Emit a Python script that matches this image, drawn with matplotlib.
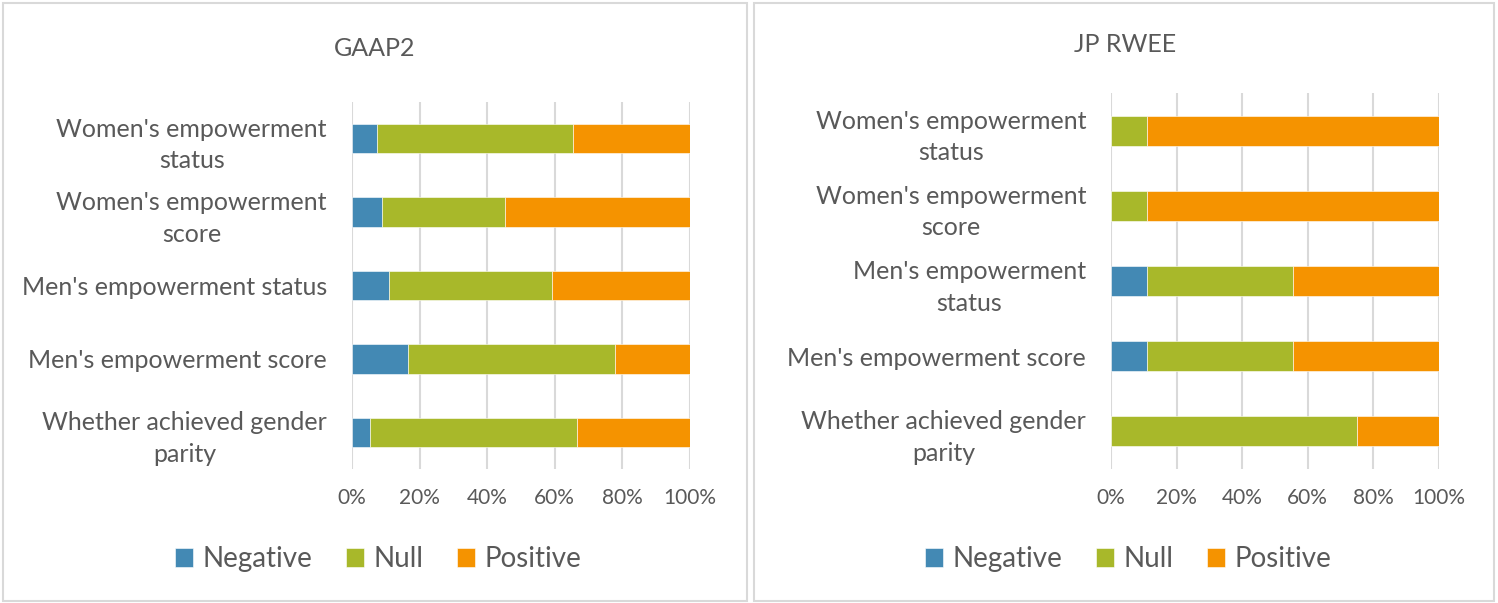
import matplotlib.pyplot as plt
from matplotlib.patches import Rectangle
import numpy as np

plt.rcParams['font.family'] = ['Lato', 'DejaVu Sans']

series = ['Negative', 'Null', 'Positive']
colors = ['#4389B4', '#A8B82A', '#F59300']

# GAAP2 panel
gaap_labels = ["Women's empowerment\nstatus", "Women's empowerment\nscore",
               "Men's empowerment status", "Men's empowerment score",
               "Whether achieved gender\nparity"]
gaap_neg = [7.5, 9.0, 11.0, 16.6, 5.4]
gaap_null = [58.0, 36.4, 48.3, 61.3, 61.3]
gaap_pos = [34.5, 54.6, 40.7, 22.1, 33.3]

# JP RWEE panel
rwee_labels = ["Women's empowerment\nstatus", "Women's empowerment\nscore",
               "Men's empowerment\nstatus", "Men's empowerment score",
               "Whether achieved gender\nparity"]
rwee_neg = [0.0, 0.0, 11.1, 11.1, 0.0]
rwee_null = [11.1, 11.1, 44.4, 44.4, 75.0]
rwee_pos = [88.9, 88.9, 44.5, 44.5, 25.0]

W, H = 1498, 603
fig = plt.figure(figsize=(W / 100, H / 100), dpi=100)
txt = '#595959'
grid = '#D9D9D9'

# panel frames
for x0, x1 in [(3, 747), (754, 1494)]:
    fig.patches.append(Rectangle((x0 / W, 2 / H), (x1 - x0) / W, (H - 5) / H,
                                 transform=fig.transFigure, fill=False,
                                 edgecolor=grid, linewidth=1.5))


def draw(rect, title, title_xy, labels, neg, null, pos, legend_xy):
    ax = fig.add_axes([rect[0] / W, (H - rect[3]) / H,
                       (rect[2] - rect[0]) / W, (rect[3] - rect[1]) / H])
    y = np.arange(len(labels))[::-1]
    left = np.zeros(len(labels))
    for vals, name, c in zip([neg, null, pos], series, colors):
        ax.barh(y, vals, left=left, height=0.4, color=c, label=name,
                edgecolor='white', linewidth=0.4, zorder=3)
        left = left + np.array(vals)
    ax.set_xlim(0, 100)
    ax.set_ylim(-0.5, len(labels) - 0.5)
    ax.set_xticks(np.arange(0, 101, 20))
    ax.set_xticklabels([f'{v}%' for v in range(0, 101, 20)])
    ax.set_yticks(y)
    ax.set_yticklabels(labels, multialignment='center', linespacing=1.45)
    ax.tick_params(axis='x', length=0, pad=14, labelsize=15, labelcolor=txt)
    ax.tick_params(axis='y', length=0, pad=18, labelsize=18, labelcolor=txt)
    ax.grid(axis='x', color=grid, linewidth=1.5, zorder=0)
    for s in ax.spines.values():
        s.set_visible(False)
    fig.text(title_xy[0] / W, 1 - title_xy[1] / H, title, ha='center',
             va='center', fontsize=18, color=txt)
    handles, labs = ax.get_legend_handles_labels()
    fig.legend(handles, labs, loc='center',
               bbox_to_anchor=(legend_xy[0] / W, 1 - legend_xy[1] / H),
               ncol=3, frameon=False, fontsize=20, labelcolor=txt,
               handlelength=0.65, handleheight=0.65, handletextpad=0.35,
               columnspacing=1.2)
    return ax


draw((352, 102, 690, 469), 'GAAP2', (375, 49), gaap_labels,
     gaap_neg, gaap_null, gaap_pos, (378, 559))
draw((1111, 93, 1439, 469), 'JP RWEE', (1125, 44), rwee_labels,
     rwee_neg, rwee_null, rwee_pos, (1128, 559))

fig.savefig('out.png', dpi=100)
